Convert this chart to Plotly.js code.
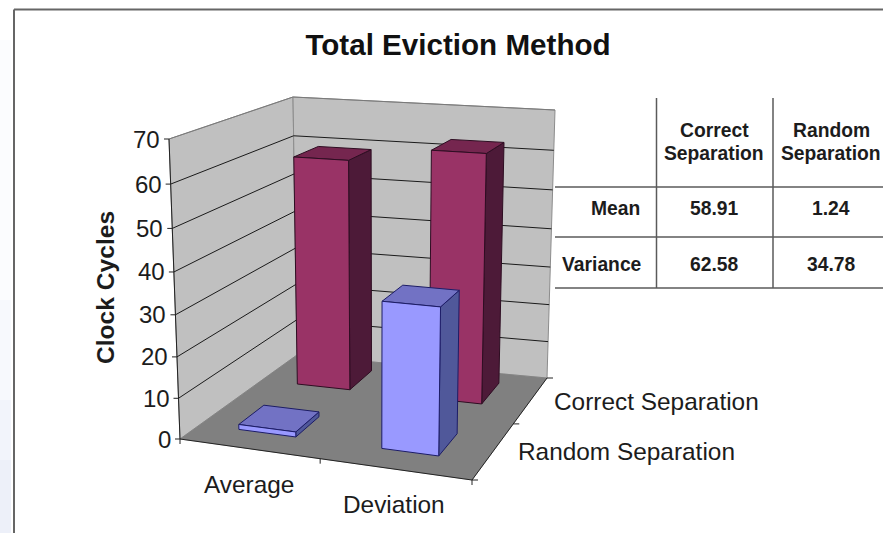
<!DOCTYPE html>
<html>
<head>
<meta charset="utf-8">
<script src="https://cdn.plot.ly/plotly-3.0.1.min.js"></script>
<style>html,body{margin:0;padding:0;background:#fff;overflow:hidden}</style>
</head>
<body>
<div id="chart" style="width:883px;height:533px"></div>
<script>
// Chart data
const categories = ['Average', 'Deviation'];
const depthSeries = ['Correct Separation', 'Random Separation'];
const correctValues = [58.91, 62.58];
const randomValues = [1.24, 34.78];
const valueTicks = [0, 10, 20, 30, 40, 50, 60, 70];
const tableHeaders = [['Correct', 'Separation'], ['Random', 'Separation']];
const tableRows = ['Mean', 'Variance'];
const tableCorrect = ['58.91', '62.58'];
const tableRandom = ['1.24', '34.78'];

// Oblique view of the plot box: screen position of its eight corners
const VALUE_MAX = 70;
const box = {
  floorFL: [180, 439], floorFR: [472, 480], floorBL: [297, 355], floorBR: [547, 378],
  roofFL: [169, 139], roofFR: [478, 158], roofBL: [293, 97], roofBR: [555, 110]
};
// Foreshortening of the value axis towards the top of the box
const VERTICAL_PERSPECTIVE = -0.058;
const mix = (a, b, t) => [a[0] + (b[0] - a[0]) * t, a[1] + (b[1] - a[1]) * t];
// u: across categories, v: front to back, w: value
function project(u, v, w) {
  const floor = mix(mix(box.floorFL, box.floorFR, u), mix(box.floorBL, box.floorBR, u), v);
  const roof = mix(mix(box.roofFL, box.roofFR, u), mix(box.roofBL, box.roofBR, u), v);
  const s = w / VALUE_MAX;
  return mix(floor, roof, s * (1 + VERTICAL_PERSPECTIVE) / (1 + VERTICAL_PERSPECTIVE * s));
}

const traces = [];
function polygon(points, fill, lineColor, lineWidth) {
  const closed = points.concat([points[0]]);
  traces.push({
    type: 'scatter', mode: 'lines', hoverinfo: 'skip', showlegend: false,
    x: closed.map(p => p[0]), y: closed.map(p => p[1]),
    fill: 'toself', fillcolor: fill,
    line: { color: lineColor, width: lineWidth }
  });
}
function polyline(points, color, width) {
  traces.push({
    type: 'scatter', mode: 'lines', hoverinfo: 'skip', showlegend: false,
    x: points.map(p => p[0]), y: points.map(p => p[1]),
    line: { color: color, width: width }
  });
}

// Walls and floor
const WALL = '#c0c0c0';
polygon([project(0,0,0), project(0,0,VALUE_MAX), project(0,1,VALUE_MAX), project(0,1,0)], WALL, '#8c8c8c', 1);
polygon([project(0,1,0), project(0,1,VALUE_MAX), project(1,1,VALUE_MAX), project(1,1,0)], WALL, '#8c8c8c', 1);
valueTicks.slice(1, -1).forEach(t => {
  polyline([project(0,0,t), project(0,1,t), project(1,1,t)], '#1a1a1a', 1);
});
polyline([project(0,0,VALUE_MAX), project(0,1,VALUE_MAX), project(1,1,VALUE_MAX)], '#7a7a7a', 1);
polygon([project(0,0,0), project(1,0,0), project(1,1,0), project(0,1,0)], '#808080', '#808080', 0.5);

// Axis lines and tick marks
polyline([project(0,0,0), project(0,0,VALUE_MAX)], '#222222', 1);
polyline([project(0,0,0), project(1,0,0), project(1,1,0)], '#222222', 1);
valueTicks.forEach(t => {
  const p = project(0,0,t);
  polyline([[p[0] - 5, p[1]], p], '#222222', 1);
});
[0, 0.48, 1].forEach(u => {
  const p = project(u,0,0);
  polyline([p, [p[0], p[1] + 5]], '#222222', 1);
});
[0, 0.55, 1].forEach(v => {
  const p = project(1,v,0);
  polyline([p, [p[0] + 6, p[1]]], '#222222', 1);
});

// Bars: back row first so the front row overlaps it
const catCentres = [0.235, 0.737];
const BAR_HALF = 0.1;
function bar(c, v0, v1, value, colors) {
  const u0 = catCentres[c] - BAR_HALF, u1 = catCentres[c] + BAR_HALF;
  polygon([project(u1,v0,0), project(u1,v1,0), project(u1,v1,value), project(u1,v0,value)], colors.side, colors.edge, 1);
  polygon([project(u0,v0,value), project(u1,v0,value), project(u1,v1,value), project(u0,v1,value)], colors.top, colors.edge, 1);
  polygon([project(u0,v0,0), project(u1,v0,0), project(u1,v0,value), project(u0,v0,value)], colors.front, colors.edge, 1);
}
const crimson = { front: '#993366', side: '#4d1a38', top: '#75264f', edge: '#2e0d22' };
const periwinkle = { front: '#9999ff', side: '#50589a', top: '#7272c4', edge: '#1c1c66' };
correctValues.forEach((val, c) => bar(c, 0.70, 0.91, val, crimson));
randomValues.forEach((val, c) => bar(c, 0.175, 0.40, val, periwinkle));

// Text
const SANS = '"Liberation Sans", Arial, sans-serif';
const INK = '#1c1c1c';
const annotations = [];
function label(x, y, text, size, bold, anchor, angle) {
  annotations.push({
    x: x, y: y, xref: 'x', yref: 'y', text: bold ? '<b>' + text + '</b>' : text,
    showarrow: false, xanchor: anchor || 'center', yanchor: 'middle',
    textangle: angle || 0, borderpad: 0, borderwidth: 0,
    font: { family: SANS, size: size, color: INK }
  });
}
valueTicks.forEach(t => {
  const p = project(0,0,t);
  label(p[0] - 9, p[1], String(t), 24, false, 'right');
});
label(105, 288, 'Clock Cycles', 24.6, true, 'center', -90);
label(249, 484, categories[0], 24.4);
label(394, 504, categories[1], 24.4);
label(554, 401, depthSeries[0], 24.4, false, 'left');
label(518, 451, depthSeries[1], 24.4, false, 'left');

// Summary table on the right
const TABLE_COLS = [714, 831];
const TABLE_ROWS = [208, 264];
const TABLE_FONT = 19.3;
tableHeaders.forEach((h, i) => {
  label(TABLE_COLS[i], 130, h[0], TABLE_FONT, true);
  label(TABLE_COLS[i], 153, h[1], TABLE_FONT, true);
});
label(640, TABLE_ROWS[0], tableRows[0], TABLE_FONT, true, 'right');
label(642, TABLE_ROWS[1], tableRows[1], TABLE_FONT, true, 'right');
tableCorrect.forEach((s, i) => label(TABLE_COLS[0], TABLE_ROWS[i], s, TABLE_FONT, true));
tableRandom.forEach((s, i) => label(TABLE_COLS[1], TABLE_ROWS[i], s, TABLE_FONT, true));

const rule = (x0, y0, x1, y1, color, width) => ({
  type: 'line', xref: 'x', yref: 'y', x0, y0, x1, y1, line: { color, width }
});
const wash = (y0, y1, fillcolor) => ({
  type: 'rect', xref: 'x', yref: 'y', x0: 0, y0, x1: 11, y1, fillcolor, line: { width: 0 }, layer: 'below'
});
const shapes = [
  // pale backdrop outside the frame, deepening towards the bottom
  wash(40, 300, '#fbfcfe'),
  wash(300, 400, '#f7f9fd'),
  wash(400, 460, '#f2f4fb'),
  wash(460, 533, '#edf0f9'),
  rule(14, 9.5, 883, 9.5, '#666666', 2),
  rule(14, 9.5, 14, 533, '#666666', 2),
  rule(656.5, 98, 656.5, 288, '#5a5a5a', 1.5),
  rule(773, 98, 773, 288, '#5a5a5a', 1.5),
  rule(555, 187, 883, 187, '#5a5a5a', 1.5),
  rule(555, 237, 883, 237, '#5a5a5a', 1.5),
  rule(555, 288, 883, 288, '#5a5a5a', 1.5)
];

const hiddenAxis = { visible: false, fixedrange: true };
Plotly.newPlot('chart', traces, {
  width: 883, height: 533,
  margin: { l: 0, r: 0, t: 0, b: 0 },
  paper_bgcolor: '#ffffff', plot_bgcolor: 'rgba(0,0,0,0)',
  showlegend: false,
  title: {
    text: '<b>Total Eviction Method</b>',
    x: 458 / 883, xanchor: 'center', y: 1 - 45 / 533, yanchor: 'middle',
    font: { family: SANS, size: 29.6, color: '#111111' }
  },
  xaxis: Object.assign({ range: [0, 883] }, hiddenAxis),
  yaxis: Object.assign({ range: [533, 0] }, hiddenAxis),
  annotations: annotations,
  shapes: shapes
}, { displayModeBar: false, staticPlot: true });
</script>
</body>
</html>
